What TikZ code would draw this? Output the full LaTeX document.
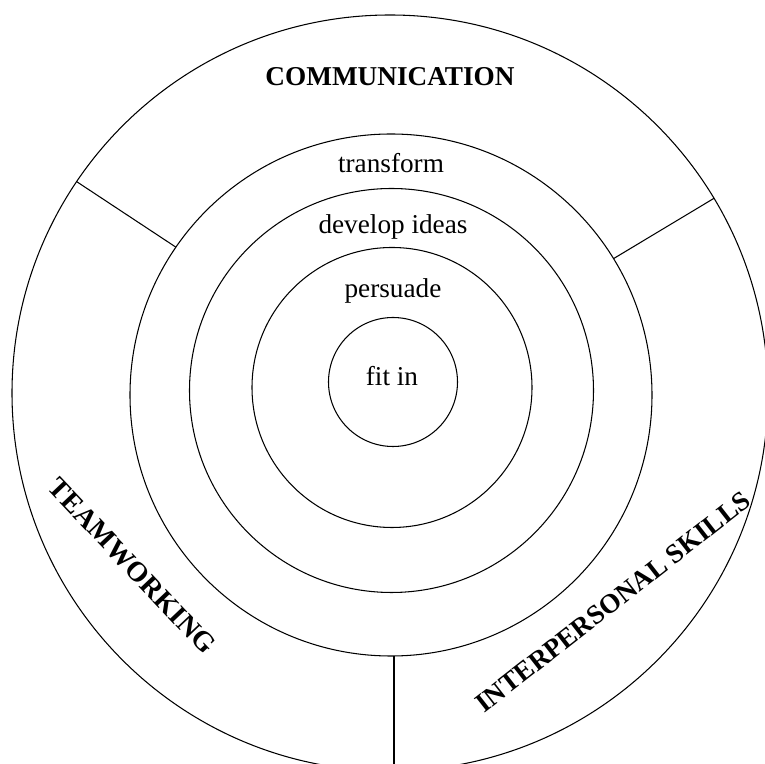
\documentclass[tikz,border=0pt]{standalone}
\usepackage{fontspec}
\setmainfont{Liberation Serif}
\usepackage{tikz}
\usetikzlibrary{calc}

\begin{document}
\begin{tikzpicture}[x=0.02cm, y=0.02cm,
    ring/.style={line width=0.6pt},
    lbl/.style={font=\fontsize{15.5}{18}\selectfont, inner sep=0pt, anchor=base},
    sect/.style={font=\bfseries\fontsize{15.5}{18}\selectfont, inner sep=0pt}]
  \useasboundingbox (0,0) rectangle (765,764);
  \clip (0,0) rectangle (765,764);

  % ---------- 圆心 ----------
  \coordinate (C1) at (393,382);
  \coordinate (C2) at (392,376.5);
  \coordinate (C3) at (391.5,373.5);
  \coordinate (C4) at (391,369);
  \coordinate (C5) at (390,371);

  % 同心圆
  \draw[ring] (C1) circle (64.5);
  \draw[ring] (C2) circle (140);
  \draw[ring] (C3) circle (202);
  \draw[ring] (C4) circle (261);
  \draw[ring] (C5) circle (378);

  % 外环分隔线
  \coordinate (L1) at ($(C4)+(145.5:261)$);
  \coordinate (L2) at ($(C5)+(146:378)$);
  \coordinate (R1) at ($(C4)+(31.5:261)$);
  \coordinate (R2) at ($(C5)+(31:378)$);
  \coordinate (B1) at (394,108);
  \coordinate (B2) at (394,-10);
  \draw[ring] (L1) -- (L2);
  \draw[ring] (R1) -- (R2);
  \draw[ring] (B1) -- (B2);

  % 内圈文字
  \node[lbl] (fit) at (392,378) {fit in};
  \node[lbl] (pers) at (393,466) {persuade};
  \node[lbl] (dev) at (393,530) {develop ideas};
  \node[lbl] (trans) at (391,591) {transform};

  % 外环文字
  \node[sect, anchor=base] (comm) at (390,678) {COMMUNICATION};
  \node[sect, rotate=-46.6, font=\bfseries\fontsize{16}{18}\selectfont] (team) at (132,198) {TEAMWORKING};
  \node[sect, rotate=38] (inter) at (613,162) {INTERPERSONAL SKILLS};
\end{tikzpicture}
\end{document}
